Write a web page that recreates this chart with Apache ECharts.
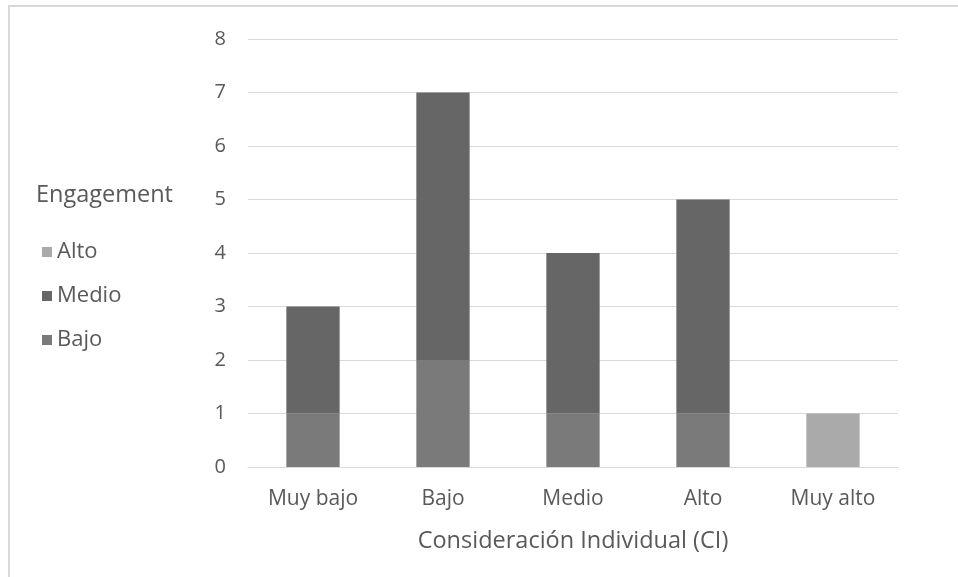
<!DOCTYPE html>
<html><head><meta charset="utf-8">
<script src="https://cdn.jsdelivr.net/npm/echarts@6/dist/echarts.min.js"></script>
<style>html,body{margin:0;padding:0;background:#fff}#c{width:958px;height:577px}</style>
</head><body><div id="c"></div>
<script>
const categories = ['Muy bajo', 'Bajo', 'Medio', 'Alto', 'Muy alto'];
const bajo = [1, 2, 1, 1, 0];
const medio = [2, 5, 3, 4, 0];
const alto = [0, 0, 0, 0, 1];
const yTicks = [0, 1, 2, 3, 4, 5, 6, 7, 8];

const font = '"Open Sans", "Noto Sans", sans-serif';
const txt = '#595959';
const chart = echarts.init(document.getElementById('c'), null, {renderer: 'canvas'});
chart.setOption({
  animation: false,
  textStyle: {fontFamily: font},
  graphic: [
    {type: 'rect', shape: {x: 9, y: 6, width: 1000, height: 700}, style: {fill: 'none', stroke: '#d9d9d9', lineWidth: 2}},
    {type: 'text', left: 36, top: 183, style: {text: 'Engagement', fontSize: 23.5, fill: txt, fontFamily: font}}
  ],
  legend: {
    orient: 'vertical', left: 37, top: 236,
    itemWidth: 10, itemHeight: 10, itemGap: 22,
    icon: 'rect',
    textStyle: {fontSize: 22, color: txt, fontFamily: font},
    data: ['Alto', 'Medio', 'Bajo']
  },
  grid: {left: 248, right: 60, top: 39, bottom: 110, containLabel: false},
  xAxis: {
    type: 'category', data: categories,
    axisLine: {lineStyle: {color: '#d9d9d9', width: 1}},
    axisTick: {show: false},
    axisLabel: {fontSize: 21, color: txt, margin: 22, fontFamily: font},
    name: 'Consideración Individual (CI)', nameLocation: 'middle', nameGap: 62,
    nameTextStyle: {fontSize: 23.5, color: txt, fontFamily: font}
  },
  yAxis: {
    type: 'value', min: 0, max: 8, interval: 1,
    axisLine: {show: false}, axisTick: {show: false},
    axisLabel: {fontSize: 20, color: txt, margin: 22, fontFamily: font,
      formatter: v => yTicks.includes(v) ? String(v) : ''},
    splitLine: {lineStyle: {color: '#d9d9d9', width: 1}}
  },
  series: [
    {name: 'Bajo', type: 'bar', stack: 't', data: bajo, barWidth: '41%', itemStyle: {color: '#7a7a7a'}},
    {name: 'Medio', type: 'bar', stack: 't', data: medio, itemStyle: {color: '#666666'}},
    {name: 'Alto', type: 'bar', stack: 't', data: alto, itemStyle: {color: '#aaaaaa'}}
  ]
});
</script></body></html>
